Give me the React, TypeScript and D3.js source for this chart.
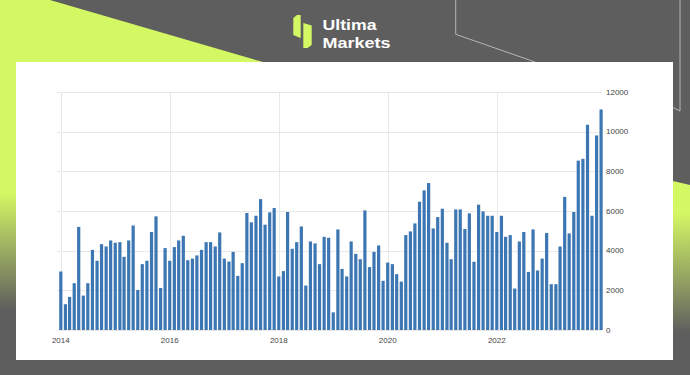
import React from "react";
import * as d3 from "d3";

const startYear = 2014;
const values: number[] = [
  2950, 1300, 1670, 2360, 5200, 1735, 2360, 4040, 3490, 4330, 4210, 4515,
  4400, 4430, 3690, 4515, 5270, 2020, 3320, 3490, 4940, 5730, 2120, 4130,
  3490, 4180, 4515, 4750, 3520, 3600, 3760, 4040, 4430, 4430, 4210, 4920,
  3600, 3450, 3940, 2730, 3370, 5900, 5430, 5760, 6600, 5310, 5930, 6150,
  2700, 2970, 5950, 4095, 4430, 5220, 2240, 4465, 4365, 3320, 4700, 4650,
  890, 5070, 3080, 2700, 4465, 3840, 3570, 6030, 3170, 3940, 4260, 2480,
  3400, 3320, 2815, 2440, 4785, 4970, 5375, 6470, 7040, 7410, 5120, 5695,
  6115, 4400, 3570, 6080, 6080, 5090, 5880, 3440, 6320, 5980, 5760, 5760,
  4940, 5760, 4700, 4785, 2090, 4465, 4940, 2930, 5070, 3000, 3600, 4890,
  2310, 2310, 4210, 6710, 4870, 5950, 8540, 8630, 10350, 5760, 9810, 11120,
];
const xTickYears: number[] = [2014, 2016, 2018, 2020, 2022];
const yTicks: number[] = [0, 2000, 4000, 6000, 8000, 10000, 12000];

const W = 690;
const H = 375;
const LIME = "#d4f764";
const GRAY = "#5e5e5e";

export default function App() {
  const dates = values.map((_, i) => new Date(startYear, i, 1));
  const x = d3
    .scaleTime()
    .domain([new Date(2014, 0, 1), new Date(2022, 0, 1)])
    .range([60.8, 496.8]);
  const y = d3.scaleLinear().domain([0, 12000]).range([330, 92]);
  const barW = 3.2;
  const gridLeft = 57;
  const gridRight = 602;

  return (
    <svg
      width={W}
      height={H}
      style={{ position: "fixed", left: 0, top: 0, display: "block" }}
      fontFamily="'Liberation Sans', Arial, sans-serif"
    >
      <defs>
        <linearGradient id="lg" x1="0" x2="0" y1="0" y2={H} gradientUnits="userSpaceOnUse">
          <stop offset={193 / H} stopColor={LIME} />
          <stop offset={310 / H} stopColor={GRAY} />
        </linearGradient>
        <linearGradient id="rg" x1="0" x2="0" y1="0" y2={H} gradientUnits="userSpaceOnUse">
          <stop offset={213 / H} stopColor={LIME} />
          <stop offset={333 / H} stopColor={GRAY} />
        </linearGradient>
      </defs>
      <rect x={0} y={0} width={W} height={H} fill={GRAY} />
      {/* top-left lime shape */}
      <polygon points="0,0 50,0 263,62 16,62 16,375 0,375" fill={LIME} />
      <rect x={0} y={62} width={16} height={H - 62} fill="url(#lg)" />
      {/* right lime band */}
      <polygon points="673,181 690,185 690,375 673,375" fill="url(#rg)" />
      {/* decorative lines */}
      <polyline points="455.7,0 455.7,34.3 535,62" fill="none" stroke="#b5b5b5" strokeWidth={1} />
      <polyline points="680,0 680,111 673,107.5" fill="none" stroke="#b5b5b5" strokeWidth={1} />

      {/* logo */}
      <g fill={LIME}>
        <polygon points="293.3,18 297,15 300.7,15 300.7,38 293.3,35" />
        <polygon points="303.3,23 311.7,25.5 311.7,45 307.5,48 303.3,48" />
      </g>
      <text x={322.5} y={30.2} fill="#ffffff" fontSize={15.3} fontWeight="bold" textLength={54} lengthAdjust="spacingAndGlyphs">Ultima</text>
      <text x={322.5} y={47.8} fill="#ffffff" fontSize={15.3} fontWeight="bold" textLength={68} lengthAdjust="spacingAndGlyphs">Markets</text>

      {/* white panel */}
      <rect x={16} y={62} width={657} height={298} fill="#ffffff" />

      {/* grid */}
      <g stroke="#e8e8e8" strokeWidth={1}>
        {yTicks.map((t) => (
          <line key={"h" + t} x1={gridLeft} x2={gridRight} y1={Math.round(y(t)) + 0.5} y2={Math.round(y(t)) + 0.5} />
        ))}
        {xTickYears.map((yr) => (
          <line
            key={"v" + yr}
            x1={Math.round(x(new Date(yr, 0, 1))) + 0.5}
            x2={Math.round(x(new Date(yr, 0, 1))) + 0.5}
            y1={y(12000)}
            y2={y(0)}
          />
        ))}
      </g>

      {/* bars */}
      <g fill="#3d77b3">
        {values.map((v, i) => (
          <rect
            key={i}
            x={x(dates[i]) - barW / 2}
            y={y(v)}
            width={barW}
            height={y(0) - y(v)}
          />
        ))}
      </g>

      {/* y axis labels */}
      <g fill="#444" fontSize={8}>
        {yTicks.map((t) => (
          <text key={"yl" + t} x={606} y={y(t)} dominantBaseline="central">
            {t}
          </text>
        ))}
      </g>
      {/* x axis labels */}
      <g fill="#444" fontSize={8} textAnchor="middle">
        {xTickYears.map((yr) => (
          <text key={"xl" + yr} x={x(new Date(yr, 0, 1))} y={340} dominantBaseline="central">
            {yr}
          </text>
        ))}
      </g>
    </svg>
  );
}
